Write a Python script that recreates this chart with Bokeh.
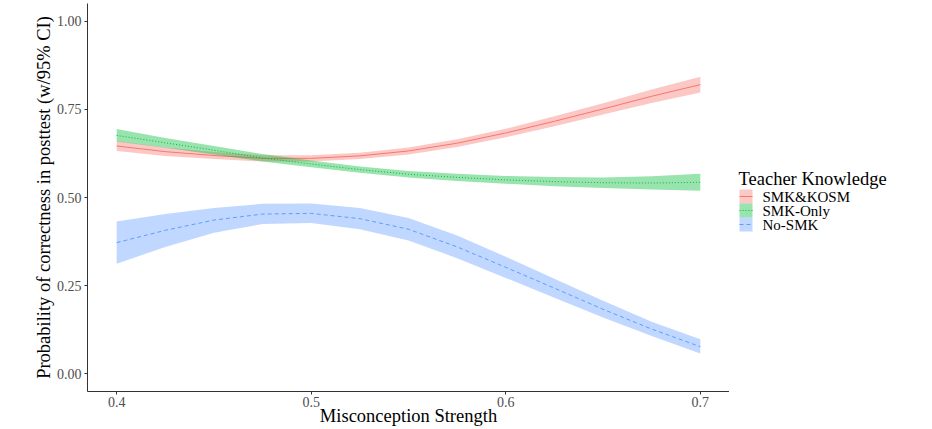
from bokeh.plotting import figure
from bokeh.layouts import row
from bokeh.models import Range1d, FixedTicker, NumeralTickFormatter
from bokeh.core.properties import value
from bokeh.embed import file_html
from bokeh.resources import INLINE

x = [0.400, 0.425, 0.450, 0.475, 0.500, 0.525, 0.550, 0.575, 0.600, 0.625, 0.650, 0.675, 0.700]

red_fit = [0.646, 0.630, 0.619, 0.611, 0.611, 0.618, 0.632, 0.654, 0.683, 0.716, 0.751, 0.787, 0.820]
red_lo = [0.632, 0.618, 0.609, 0.602, 0.602, 0.609, 0.622, 0.643, 0.671, 0.702, 0.735, 0.768, 0.798]
red_hi = [0.660, 0.642, 0.629, 0.620, 0.620, 0.627, 0.642, 0.665, 0.695, 0.730, 0.767, 0.806, 0.842]

green_fit = [0.676, 0.655, 0.634, 0.612, 0.595, 0.579, 0.566, 0.557, 0.550, 0.545, 0.542, 0.541, 0.543]
green_lo = [0.659, 0.641, 0.622, 0.602, 0.586, 0.570, 0.557, 0.547, 0.539, 0.532, 0.527, 0.523, 0.519]
green_hi = [0.694, 0.669, 0.646, 0.623, 0.605, 0.588, 0.575, 0.567, 0.561, 0.558, 0.557, 0.560, 0.567]

blue_fit = [0.372, 0.407, 0.436, 0.453, 0.455, 0.440, 0.410, 0.360, 0.302, 0.243, 0.183, 0.127, 0.077]
blue_lo = [0.312, 0.360, 0.400, 0.425, 0.428, 0.410, 0.378, 0.328, 0.272, 0.216, 0.160, 0.107, 0.058]
blue_hi = [0.432, 0.453, 0.470, 0.482, 0.483, 0.470, 0.442, 0.392, 0.332, 0.270, 0.207, 0.148, 0.098]

groups = ["SMK&KOSM", "SMK-Only", "No-SMK"]
legend_title = "Teacher Knowledge"
x_ticks = [0.4, 0.5, 0.6, 0.7]
y_ticks = [0.0, 0.25, 0.5, 0.75, 1.0]

colors = ["#F8766D", "#00BA38", "#619CFF"]
dashes = ["solid", "1 2", "4 3"]
FONT = "Liberation Serif"

# ---- main panel ----
p = figure(width=729, height=429, output_backend="svg", toolbar_location=None,
           x_range=Range1d(0.385, 0.715), y_range=Range1d(-0.05, 1.05),
           min_border_left=87, min_border_right=0, min_border_top=3, min_border_bottom=38)
p.background_fill_color = "white"
p.border_fill_color = "white"
p.outline_line_color = None
p.xgrid.visible = False
p.ygrid.visible = False

series = [(red_fit, red_lo, red_hi), (green_fit, green_lo, green_hi), (blue_fit, blue_lo, blue_hi)]
for (fit, lo, hi), c, d in zip(series, colors, dashes):
    p.varea(x=x, y1=lo, y2=hi, fill_color=c, fill_alpha=0.4)
    p.line(x=x, y=fit, line_color=c, line_width=1, line_dash=d)

for ax in (p.xaxis[0], p.yaxis[0]):
    ax.axis_line_color = "#333333"
    ax.axis_line_width = 1
    ax.major_tick_line_color = "#333333"
    ax.major_tick_out = 3
    ax.major_tick_in = 0
    ax.minor_tick_line_color = None
    ax.major_label_text_font = FONT
    ax.major_label_text_font_size = "14px"
    ax.major_label_text_color = "#4D4D4D"
    ax.axis_label_text_font = FONT
    ax.axis_label_text_font_size = "18.5px"
    ax.axis_label_text_font_style = "normal"
    ax.axis_label_text_color = "black"

p.xaxis.ticker = FixedTicker(ticks=x_ticks)
p.yaxis.ticker = FixedTicker(ticks=y_ticks)
p.xaxis.formatter = NumeralTickFormatter(format="0.0")
p.yaxis.formatter = NumeralTickFormatter(format="0.00")
p.xaxis.axis_label = "Misconception Strength"
p.yaxis.axis_label = "Probability of correctness in posttest (w/95% CI)"
p.xaxis.major_label_standoff = 2
p.yaxis.major_label_standoff = 3
p.xaxis.axis_label_standoff = -4
p.yaxis.axis_label_standoff = 0

# ---- legend panel (frame aligned with main frame; pixel coordinates, y downward) ----
leg = figure(width=203, height=429, output_backend="svg", toolbar_location=None,
             x_range=Range1d(0, 203), y_range=Range1d(391, 3),
             x_axis_location=None, y_axis_location=None,
             min_border_left=0, min_border_right=0, min_border_top=3, min_border_bottom=38)
leg.grid.visible = False
leg.outline_line_color = None
leg.background_fill_color = "white"
leg.border_fill_color = "white"

leg.text(x=[9], y=[178], text=[legend_title], text_font=value(FONT),
         text_font_size=value("18.5px"), text_baseline="alphabetic", text_color="black")
for i, (g, c, d) in enumerate(zip(groups, colors, dashes)):
    top = 189 + 14 * i
    leg.quad(left=[10], right=[23], top=[top], bottom=[top + 14],
             fill_color=c, fill_alpha=0.4, line_color=None)
    leg.line(x=[10, 23], y=[top + 7, top + 7], line_color=c, line_width=1, line_dash=d)
    leg.text(x=[33], y=[top + 7.5], text=[g], text_font=value(FONT),
             text_font_size=value("15px"), text_baseline="middle", text_color="black")

layout = row(p, leg, spacing=0)
open("out.html", "w").write(file_html(layout, INLINE))
